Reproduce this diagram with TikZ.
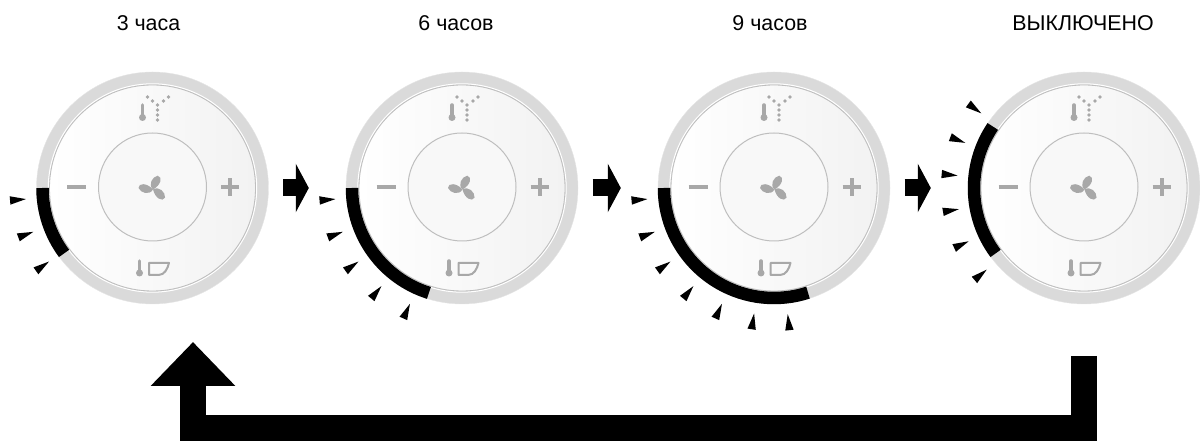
\documentclass[tikz,border=0pt]{standalone}
\usepackage{fontspec}
\setmainfont{Liberation Sans}
\usetikzlibrary{arrows.meta,calc}
\definecolor{cRing}{RGB}{218,218,218}
\definecolor{cEdge}{RGB}{190,190,190}
\definecolor{cIcon}{RGB}{168,168,168}
\definecolor{cFace}{RGB}{242,242,242}
\tikzset{
  dial/.style={circle, draw=cRing!70!white, fill=cRing, minimum size=232pt, inner sep=0pt},
  face/.style={draw=cEdge, line width=0.8pt, left color=white, right color=cFace},
  hub/.style={draw=cEdge, line width=1pt, fill=white!50!cFace},
  bar/.style={draw=black, line width=12.5pt},
  tickm/.style={fill=black},
  icon/.style={draw=cIcon, line width=4pt},
  iconl/.style={draw=cIcon, line width=2pt, line join=round},
  iconth/.style={draw=cIcon, line width=3.5pt, line cap=round},
  iconf/.style={fill=cIcon},
  stepar/.style={draw=black, line width=17pt, shorten <=14.5pt, shorten >=37pt,
                 -{Triangle[length=13pt,width=48pt]}},
  backar/.style={draw=black, line width=26pt, line join=miter,
                 -{Triangle[length=44pt,width=82pt]}},
  lbl/.style={font=\fontsize{21.4}{25}\selectfont, anchor=base, inner sep=0pt},
}
\begin{document}
\begin{tikzpicture}[x=1pt,y=1pt]
  \useasboundingbox (0,0) rectangle (1200,441);
  % one dial per setting
  \foreach \name/\cx/\lx/\txt/\bfrom/\bto/\tstart/\tlast in {
      d3h/152.5/148.5/{3 часа}/180/216.5/185/2,
      d6h/462/456/{6 часов}/180/252.5/185/4,
      d9h/774/770/{9 часов}/180/288/185/6,
      doff/1084/1083/{ВЫКЛЮЧЕНО}/146/216.5/144/5} {
    \node[dial] (\name) at (\cx,253) {};
    \node[lbl] (lbl\name) at (\lx,410) {\txt};
    \begin{scope}[shift={(\name.center)}]
      \draw[white, line width=1pt] (0,0) circle (104.2);
      \draw[face] (0,0) circle (103);
      \draw[hub] (0,1) circle (54);
      % minus and plus
      \draw[icon] (-85.5,1) -- (-66.5,1);
      \draw[icon] (68.5,1) -- (86.5,1);
      \draw[icon] (77.5,-8) -- (77.5,10);
      % fan
      \foreach \r in {-50,55,158} {
        \fill[iconf, shift={(0.5,-1.5)}, rotate=\r] (0,0) .. controls (1,7) and (10,8) .. (14,4) .. controls (16,-1) and (8,-4) .. (0,0) -- cycle;
      }
      % top icon
      \draw[iconth] (-10,83) -- (-10,72);
      \fill[iconf] (-10,70.5) circle (3.5);
      \foreach \dx/\dy in {-5/91,0/87,5/83,11/87,16/91,5/78,5/73,5/68} {
        \fill[iconf] (\dx,\dy) circle (1.8);
      }
      % bottom icon
      \draw[iconth] (-13,-73) -- (-13,-84);
      \fill[iconf] (-13,-85) circle (3.5);
      \draw[iconl] (-3.5,-75) -- (16.5,-75) .. controls (15,-81) and (12,-87) .. (6,-87) -- (-3.5,-87) -- cycle;
      % elapsed time
      \draw[bar] (\bfrom:110) arc[start angle=\bfrom, end angle=\bto, radius=110];
      \foreach \k in {0,...,\tlast} {
        \pgfmathsetmacro{\a}{\tstart+15.2*\k}
        \fill[tickm] (\a:127) -- ($(\a:143)+(\a+90:4.2)$) -- ($(\a:143)+(\a-90:4.2)$) -- cycle;
      }
    \end{scope}
  }
  \draw[stepar] (d3h.east) -- (d6h.west);
  \draw[stepar] (d6h.east) -- (d9h.west);
  \draw[stepar] (d9h.east) -- (doff.west);
  \coordinate (backs) at (1084,85);
  \coordinate (backe) at (193,99);
  \coordinate (backb) at (640,12.5);
  \draw[backar] (backs) |- (backb) -| (backe);
\end{tikzpicture}
\end{document}
